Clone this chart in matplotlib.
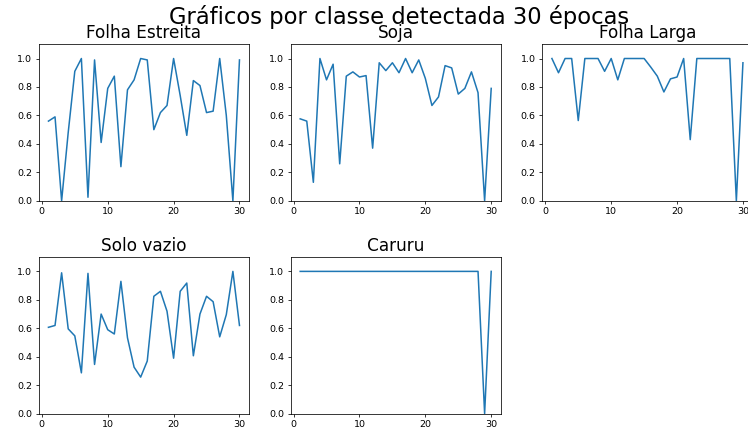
import matplotlib
matplotlib.use("Agg")
import matplotlib.pyplot as plt

epocas = list(range(1, 31))

folha_estreita = [0.56, 0.59, 0.0, 0.48, 0.91, 1.0, 0.025, 0.99, 0.41, 0.79,
                  0.876, 0.24, 0.78, 0.85, 1.0, 0.99, 0.50, 0.62, 0.67, 1.0,
                  0.74, 0.46, 0.845, 0.81, 0.62, 0.63, 1.0, 0.60, 0.0, 0.99]
soja = [0.576, 0.56, 0.13, 1.0, 0.85, 0.96, 0.26, 0.876, 0.906, 0.87,
        0.88, 0.37, 0.97, 0.915, 0.97, 0.90, 1.0, 0.90, 0.99, 0.86,
        0.67, 0.73, 0.95, 0.934, 0.75, 0.79, 0.906, 0.76, 0.0, 0.79]
folha_larga = [1.0, 0.90, 1.0, 1.0, 0.564, 1.0, 1.0, 1.0, 0.91, 1.0,
               0.85, 1.0, 1.0, 1.0, 1.0, 0.94, 0.876, 0.765, 0.857, 0.87,
               1.0, 0.43, 1.0, 1.0, 1.0, 1.0, 1.0, 1.0, 0.0, 0.97]
solo_vazio = [0.607, 0.62, 0.99, 0.596, 0.547, 0.287, 0.986, 0.346, 0.70, 0.59,
              0.56, 0.93, 0.533, 0.327, 0.257, 0.37, 0.825, 0.86, 0.72, 0.39,
              0.86, 0.918, 0.407, 0.70, 0.825, 0.787, 0.54, 0.696, 1.0, 0.62]
caruru = [1.0] * 28 + [0.0, 1.0]

classes = ["Folha Estreita", "Soja", "Folha Larga", "Solo vazio", "Caruru"]
series = [folha_estreita, soja, folha_larga, solo_vazio, caruru]

fig, axes = plt.subplots(2, 3, figsize=(7.48, 4.32), dpi=100)
fig.subplots_adjust(left=0.052, right=1.006, top=0.8975, bottom=0.0424, wspace=0.198, hspace=0.36)
# the original figure was wider and cropped on the right, so the suptitle sits off-centre
fig.suptitle("Gráficos por classe detectada 30 épocas", fontsize=16.3, x=0.533, y=0.988)
for ax, nome, valores in zip(axes.flat, classes, series):
    ax.plot(epocas, valores, color="#1f77b4", lw=1.1)
    ax.set_title(nome, fontsize=12.2, pad=4.3)
    ax.set_ylim(0, 1.1)
    ax.set_xticks([0, 10, 20, 30])
    ax.tick_params(labelsize=6.8, length=2.4, width=0.55, pad=2.4)
    for sp in ax.spines.values():
        sp.set_linewidth(0.55)
axes.flat[5].remove()
fig.savefig("out.png", dpi=100)
